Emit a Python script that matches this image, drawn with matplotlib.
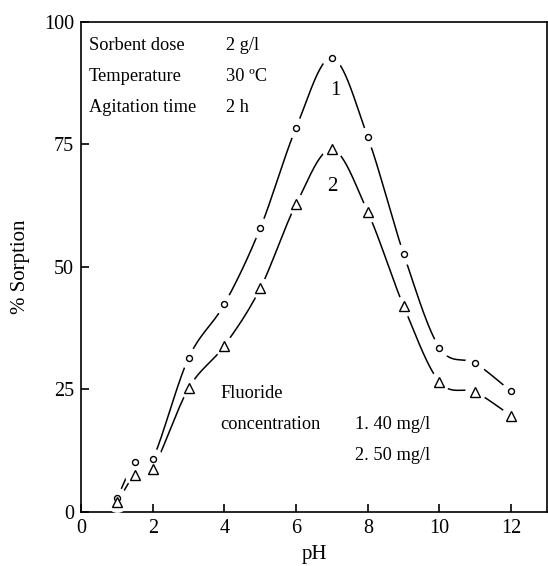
"""Sorption of fluoride versus pH for two initial concentrations."""

import numpy as np
import matplotlib
matplotlib.use("Agg")
import matplotlib.pyplot as plt

# pH values and % sorption
ph = [1, 1.5, 2, 3, 4, 5, 6, 7, 8, 9, 10, 11, 12]
sorption_40 = [2.7, 10.1, 10.8, 31.4, 42.4, 57.9, 78.4, 92.7, 76.5, 52.7, 33.5, 30.3, 24.6]
sorption_50 = [1.9, 7.5, 8.7, 25.2, 33.9, 45.6, 62.8, 74.0, 61.2, 42.0, 26.5, 24.4, 19.6]

x_ticks = [0, 2, 4, 6, 8, 10, 12]
y_ticks = [0, 25, 50, 75, 100]

conditions = [("Sorbent dose", "2 g/l"), ("Temperature", "30 ºC"), ("Agitation time", "2 h")]


def smooth_curve(x, y, n=30):
    """Catmull-Rom spline through the points, only used to draw the line."""

    x = np.asarray(x, float)
    y = np.asarray(y, float)
    px = np.concatenate([[2 * x[0] - x[1]], x, [2 * x[-1] - x[-2]]])
    py = np.concatenate([[2 * y[0] - y[1]], y, [2 * y[-1] - y[-2]]])
    xs, ys = [], []
    t = np.linspace(0, 1, n)
    for i in range(1, len(px) - 2):
        for p, out in ((px, xs), (py, ys)):
            p0, p1, p2, p3 = p[i - 1], p[i], p[i + 1], p[i + 2]
            out.append(0.5 * ((2 * p1) + (-p0 + p2) * t
                              + (2 * p0 - 5 * p1 + 4 * p2 - p3) * t ** 2
                              + (-p0 + 3 * p1 - 3 * p2 + p3) * t ** 3))
    return np.concatenate(xs), np.concatenate(ys)


def add_series(ax, x, y, marker, size):
    """Draws a smooth line broken around the markers, then the markers."""

    ax.plot(*smooth_curve(x, y), color="black", lw=1.1, zorder=2)
    ax.plot(x, y, ls="none", marker="o", ms=15, mfc="white", mec="none", zorder=3)
    ax.plot(x, y, ls="none", marker=marker, ms=size, mfc="white", mec="black",
            mew=1.0, zorder=4)


plt.rcParams["font.family"] = ["Liberation Serif", "DejaVu Serif"]

fig = plt.figure(figsize=(5.48, 5.66), dpi=100)
ax = fig.add_axes([0.148, 0.096, 0.850, 0.865])

add_series(ax, ph, sorption_40, "o", 4.3)
add_series(ax, ph, sorption_50, "^", 7.5)

ax.set_xlim(0, 13)
ax.set_ylim(0, 100)
ax.set_xticks(x_ticks)
ax.set_yticks(y_ticks)
ax.tick_params(direction="in", length=6, width=1.2, labelsize=14.5, pad=5)
for spine in ax.spines.values():
    spine.set_linewidth(1.2)

ax.set_xlabel("pH", fontsize=15, labelpad=5)
ax.set_ylabel("% Sorption", fontsize=15, labelpad=10)

# experimental conditions
for i, (name, value) in enumerate(conditions):
    ax.text(0.22, 95.2 - 6.3 * i, name, fontsize=13.2, va="center")
    ax.text(4.05, 95.2 - 6.3 * i, value, fontsize=13.2, va="center")

ax.text(7.1, 86, "1", fontsize=15, ha="center", va="center")
ax.text(7.0, 66.4, "2", fontsize=15, ha="center", va="center")

ax.text(3.89, 24.2, "Fluoride", fontsize=13.2, va="center")
ax.text(3.89, 17.9, "concentration", fontsize=13.2, va="center")
ax.text(7.64, 17.9, "1. 40 mg/l", fontsize=13.2, va="center")
ax.text(7.64, 11.4, "2. 50 mg/l", fontsize=13.2, va="center")

fig.savefig("out.png", dpi=100)
